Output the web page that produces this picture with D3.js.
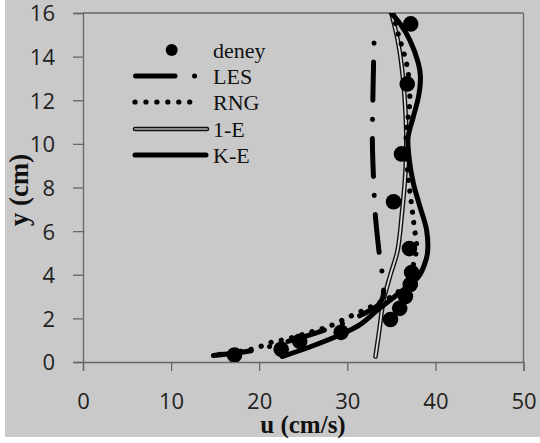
<!DOCTYPE html>
<html><head><meta charset="utf-8">
<script src="https://cdn.jsdelivr.net/npm/d3@7"></script>
<style>html,body{margin:0;padding:0;background:#fff;}</style>
</head><body>
<svg id="c" width="540" height="443"></svg>
<script>
// ---- data ----
const xTicks = [0, 10, 20, 30, 40, 50];
const yTicks = [0, 2, 4, 6, 8, 10, 12, 14, 16];
const seriesNames = ["deney", "LES", "RNG", "1-E", "K-E"];

const deneyU = [17.2, 22.5, 24.6, 29.3, 34.9, 35.95, 36.6, 37.15, 37.3, 37.05, 35.25, 36.15, 36.8, 37.2];
const deneyY = [0.32, 0.58, 0.95, 1.36, 1.95, 2.46, 3.0, 3.55, 4.1, 5.2, 7.35, 9.54, 12.75, 15.5];

const lesU = [14.8, 17.5, 19.9, 22.0, 25.0, 28.0, 30.5, 32.5, 33.6, 34.05, 34.1, 33.95, 33.7, 33.4, 33.15, 33.0, 32.85, 32.9, 33.0, 33.1];
const lesY = [0.3, 0.42, 0.58, 0.8, 1.15, 1.55, 1.95, 2.35, 2.65, 3.0, 3.5, 4.1, 4.75, 5.8, 6.9, 8.2, 10.0, 12.0, 14.0, 15.4];

const rngU = [15.5, 19.3, 21.4, 23.1, 26.0, 27.85, 30.1, 32.0, 33.5, 35.0, 36.5, 37.3, 37.8, 37.87, 37.57, 37.3, 36.9, 36.7, 36.7, 36.9, 37.1, 36.9, 36.4, 35.8, 35.2];
const rngY = [0.35, 0.6, 0.9, 1.05, 1.39, 1.62, 2.05, 2.4, 2.7, 3.0, 3.5, 4.2, 5.0, 5.3, 6.28, 7.2, 8.5, 9.6, 10.6, 11.2, 12.0, 13.3, 14.2, 15.0, 16.0];

const oneEU = [33.2, 33.65, 34.1, 34.9, 35.7, 36.2, 36.6, 36.7, 36.6, 36.3, 35.8, 35.0];
const oneEY = [0.25, 1.5, 2.8, 4.0, 5.1, 6.8, 8.7, 10.3, 11.5, 13.1, 14.6, 16.0];

const keU = [22.6, 25.8, 29.2, 31.4, 33.5, 35.4, 36.8, 38.06, 38.7, 39.1, 39.0, 38.25, 37.5, 37.0, 36.9, 37.5, 38.1, 38.3, 38.06, 37.1, 36.0, 35.0];
const keY = [0.25, 0.7, 1.25, 1.7, 2.4, 3.0, 3.45, 3.9, 4.4, 5.0, 6.05, 7.12, 8.19, 9.4, 10.3, 11.25, 12.2, 13.1, 13.7, 14.76, 15.5, 16.0];

// ---- chart ----
const svg = d3.select("#c");
const W = 540, H = 443;
const mLeft = 83, mRight = 523.5, mTop = 13, mBottom = 362;
const x = d3.scaleLinear().domain([0, 50]).range([mLeft, mRight]);
const y = d3.scaleLinear().domain([0, 16]).range([mBottom, mTop]);

svg.append("rect").attr("x", 0).attr("y", 0).attr("width", W).attr("height", H).attr("fill", "#fff");
svg.append("rect").attr("x", 5).attr("y", 0).attr("width", W - 5).attr("height", 437).attr("fill", "#c9c9c9");

const axisColor = "#666";
const tickFont = "'Open Sans', sans-serif";

svg.append("line").attr("x1", mLeft).attr("x2", mRight).attr("y1", mTop).attr("y2", mTop).attr("stroke", axisColor).attr("stroke-width", 1.3);
svg.append("line").attr("x1", mRight).attr("x2", mRight).attr("y1", mTop).attr("y2", mBottom).attr("stroke", axisColor).attr("stroke-width", 1.3);

const gx = svg.append("g").attr("transform", `translate(0,${mBottom})`)
  .call(d3.axisBottom(x).tickValues(xTicks).tickSize(9).tickPadding(22).tickFormat(d3.format("d")));
const gy = svg.append("g").attr("transform", `translate(${mLeft},0)`)
  .call(d3.axisLeft(y).tickValues(yTicks).tickSize(10).tickPadding(18).tickFormat(d3.format("d")));
[gx, gy].forEach(g => {
  g.select(".domain").attr("stroke", axisColor).attr("stroke-width", 1.3);
  g.selectAll(".tick line").attr("stroke", axisColor).attr("stroke-width", 1.3);
  g.selectAll(".tick text").attr("fill", "#222").style("font-family", tickFont).style("font-size", "22px");
});
gx.selectAll(".tick text").attr("dy", "0.71em").attr("y", 31);
gy.selectAll(".tick text").attr("dy", "0.36em");

svg.append("clipPath").attr("id", "clip").append("rect")
  .attr("x", mLeft).attr("y", mTop).attr("width", mRight - mLeft).attr("height", mBottom - mTop);
const plot = svg.append("g").attr("clip-path", "url(#clip)");

const line = d3.line().x(d => x(d[0])).y(d => y(d[1])).curve(d3.curveCatmullRom.alpha(0.5));
const zip = (a, b) => a.map((v, i) => [v, b[i]]);

plot.append("path").attr("d", line(zip(oneEU, oneEY))).attr("fill", "none").attr("stroke", "#111").attr("stroke-width", 4.6).attr("stroke-linecap", "round");
plot.append("path").attr("d", line(zip(oneEU, oneEY))).attr("fill", "none").attr("stroke", "#dcdcdc").attr("stroke-width", 1.8).attr("stroke-linecap", "round");
plot.append("path").attr("d", line(zip(rngU, rngY))).attr("fill", "none").attr("stroke", "#000").attr("stroke-width", 5.2)
  .attr("stroke-linecap", "round").attr("stroke-dasharray", "0.1,10.5");
plot.append("path").attr("d", line(zip(lesU, lesY))).attr("fill", "none").attr("stroke", "#000").attr("stroke-width", 5)
  .attr("stroke-linecap", "round").attr("stroke-dasharray", "38,19,0.1,19");
plot.append("path").attr("d", line(zip(keU, keY))).attr("fill", "none").attr("stroke", "#000").attr("stroke-width", 5)
  .attr("stroke-linecap", "round");
plot.selectAll("circle.deney").data(zip(deneyU, deneyY)).enter().append("circle")
  .attr("cx", d => x(d[0])).attr("cy", d => y(d[1])).attr("r", 7.8).attr("fill", "#000");

const lg = svg.append("g");
const legFont = "'Liberation Serif', 'Times New Roman', serif";
const rows = [50, 76, 102, 129, 155];
lg.append("circle").attr("cx", 171.7).attr("cy", rows[0]).attr("r", 6).attr("fill", "#000");
lg.append("line").attr("x1", 135.5).attr("x2", 196).attr("y1", rows[1]).attr("y2", rows[1])
  .attr("stroke", "#000").attr("stroke-width", 5).attr("stroke-linecap", "round").attr("stroke-dasharray", "39.5,19.5,0.1,60");
lg.append("line").attr("x1", 135).attr("x2", 200.5).attr("y1", rows[2]).attr("y2", rows[2])
  .attr("stroke", "#000").attr("stroke-width", 5.2).attr("stroke-linecap", "round").attr("stroke-dasharray", "0.1,10.83");
lg.append("line").attr("x1", 135).attr("x2", 207).attr("y1", rows[3]).attr("y2", rows[3])
  .attr("stroke", "#111").attr("stroke-width", 4.6).attr("stroke-linecap", "round");
lg.append("line").attr("x1", 135).attr("x2", 207).attr("y1", rows[3]).attr("y2", rows[3])
  .attr("stroke", "#8a8a8a").attr("stroke-width", 1.8).attr("stroke-linecap", "round");
lg.append("line").attr("x1", 135).attr("x2", 206).attr("y1", rows[4]).attr("y2", rows[4])
  .attr("stroke", "#000").attr("stroke-width", 5).attr("stroke-linecap", "round");
lg.selectAll("text").data(seriesNames).enter().append("text")
  .attr("x", 213).attr("y", (d, i) => rows[i] + 8)
  .style("font-family", legFont).style("font-size", "22px").attr("fill", "#111").text(d => d);

svg.append("text").attr("x", 303).attr("y", 433).attr("text-anchor", "middle")
  .style("font-family", legFont).style("font-size", "25px").style("font-weight", "bold").attr("fill", "#111").text("u (cm/s)");
svg.append("text").attr("transform", "translate(28,190) rotate(-90)").attr("text-anchor", "middle")
  .style("font-family", legFont).style("font-size", "27px").style("font-weight", "bold").attr("fill", "#111").text("y (cm)");
</script>
</body></html>
